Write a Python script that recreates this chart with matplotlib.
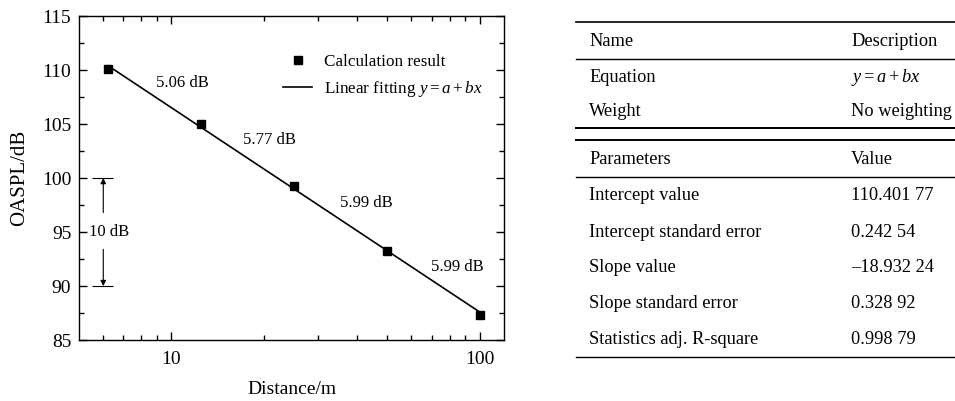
import matplotlib
matplotlib.use('Agg')
import matplotlib.pyplot as plt
import numpy as np
from matplotlib.ticker import FixedLocator, FixedFormatter, NullFormatter, MultipleLocator

plt.rcParams['font.family'] = 'Liberation Serif'
plt.rcParams['mathtext.fontset'] = 'custom'
plt.rcParams['mathtext.rm'] = 'Liberation Serif'
plt.rcParams['mathtext.it'] = 'Liberation Serif:italic'

# Calculated OASPL at each distance
distance = [6.25, 12.5, 25, 50, 100]
oaspl = [110.10, 105.04, 99.27, 93.28, 87.29]
step_labels = ['5.06 dB', '5.77 dB', '5.99 dB', '5.99 dB']
step_pos = [(10.9, 108.8), (20.9, 103.5), (43, 97.7), (85, 91.8)]

# Fit parameters (x = lg(d / 6.25))
a = 110.40177
b = -18.93224
d_ref = 6.25

eq = r'$y{=}a + bx$'
table_top = [('Name', 'Description'), ('Equation', eq), ('Weight', 'No weighting')]
table_bottom = [('Parameters', 'Value'),
                ('Intercept value', '110.401 77'),
                ('Intercept standard error', '0.242 54'),
                ('Slope value', '\u201318.932 24'),
                ('Slope standard error', '0.328 92'),
                ('Statistics adj. R-square', '0.998 79')]

fig = plt.figure(figsize=(9.55, 4.01), dpi=100)
ax = fig.add_axes([0.0827, 0.152, 0.445, 0.808])

d_line = np.array([distance[0], distance[-1]])
fit_line = a + b * np.log10(d_line / d_ref)
ax.plot(distance, oaspl, 's', color='black', markersize=5.2, label='Calculation result', zorder=3)
ax.plot(d_line, fit_line, '-', color='black', linewidth=1.2, label='Linear fitting ' + eq)

ax.set_xscale('log')
ax.set_xlim(5.03, 120)
ax.set_ylim(85, 115)
ax.xaxis.set_major_locator(FixedLocator([10, 100]))
ax.xaxis.set_major_formatter(FixedFormatter(['10', '100']))
ax.xaxis.set_minor_locator(FixedLocator([6, 7, 8, 9, 20, 30, 40, 50, 60, 70, 80, 90]))
ax.xaxis.set_minor_formatter(NullFormatter())
ax.yaxis.set_major_locator(MultipleLocator(5))
ax.yaxis.set_minor_locator(MultipleLocator(2.5))
ax.tick_params(which='both', direction='in', top=True, right=True, labelsize=14)
ax.tick_params(which='major', length=6, width=1)
ax.tick_params(which='minor', length=3.5, width=1)
ax.tick_params(axis='y', pad=5.5)
ax.tick_params(axis='x', pad=8)
for s in ax.spines.values():
    s.set_linewidth(1)

ax.set_xlabel('Distance/m', fontsize=14, labelpad=9)
ax.set_ylabel('OASPL/dB', fontsize=15, labelpad=9)

for txt, (x, y) in zip(step_labels, step_pos):
    ax.text(x, y, txt, fontsize=12, ha='center', va='center')

# 10 dB scale bar
ax.hlines([100, 90], 5.55, 6.49, color='black', linewidth=0.8)
ax.annotate('', xy=(6.03, 100), xytext=(6.03, 96.8),
            arrowprops=dict(arrowstyle='-|>', color='black', lw=0.8, mutation_scale=8, shrinkA=0, shrinkB=0))
ax.annotate('', xy=(6.03, 90), xytext=(6.03, 93.4),
            arrowprops=dict(arrowstyle='-|>', color='black', lw=0.8, mutation_scale=8, shrinkA=0, shrinkB=0))
ax.text(6.3, 95, '10 dB', fontsize=12, ha='center', va='center')

ax.legend(loc='upper left', bbox_to_anchor=(0.459, 0.909), frameon=False, fontsize=12.3,
          handlelength=1.75, handletextpad=0.7, labelspacing=0.5, borderpad=0)

# Fit summary table
W, H = 955, 401
def hline(y, lw=1.0):
    fig.add_artist(plt.Line2D([576 / W, 955 / W], [1 - y / H, 1 - y / H], color='black', linewidth=lw))

def row(y, left, right):
    fig.text(589 / W, 1 - y / H, left, fontsize=13.2, va='center', ha='left')
    fig.text(851 / W, 1 - y / H, right, fontsize=13.2, va='center', ha='left')

hline(22, 1.2)
hline(59, 1.0)
hline(128, 1.4)
hline(140, 1.4)
hline(177, 1.0)
hline(357, 1.0)
for (l, r), y in zip(table_top, [41, 77, 111]):
    row(y, l, r)
for (l, r), y in zip(table_bottom, [159, 196, 232, 268, 304, 339]):
    row(y, l, r)

fig.savefig('out.png', dpi=100)
